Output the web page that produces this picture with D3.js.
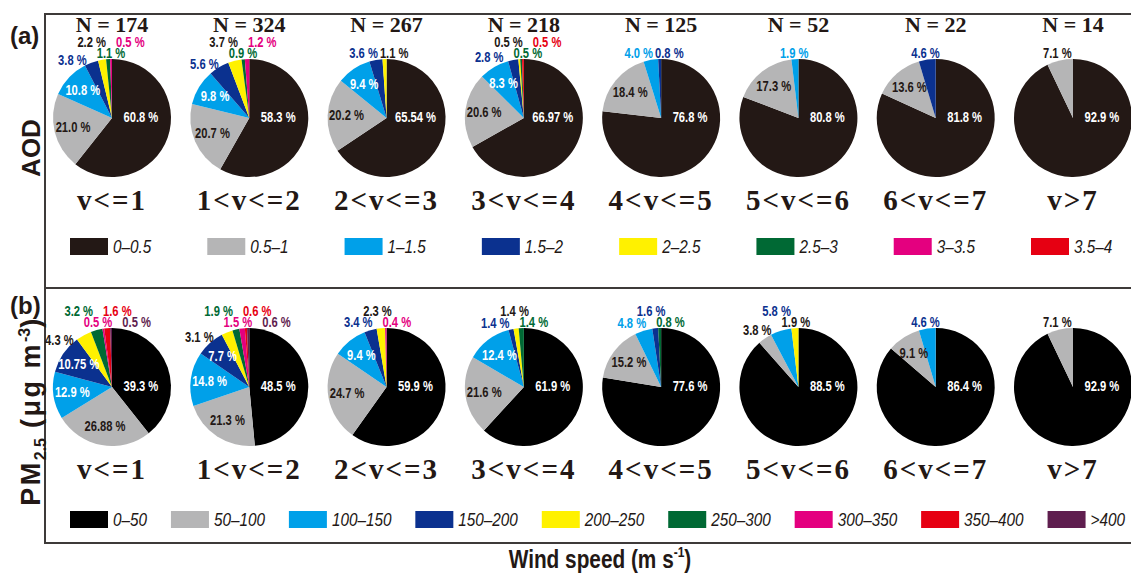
<!DOCTYPE html>
<html><head><meta charset="utf-8">
<script src="https://cdn.jsdelivr.net/npm/d3@7/dist/d3.min.js"></script>
<style>body{margin:0;background:#fff}svg{display:block}</style>
</head><body><svg id="c" width="1131" height="573"></svg>
<script>
// ---------------- data ----------------
const categories = ["v<=1","1<v<=2","2<v<=3","3<v<=4","4<v<=5","5<v<=6","6<v<=7","v>7"];
const aodN = [174,324,267,218,125,52,22,14];

const aodClasses = ["0\u20130.5","0.5\u20131","1\u20131.5","1.5\u20132","2\u20132.5","2.5\u20133","3\u20133.5","3.5\u20134"];
const aodColors  = ["#231815","#b5b5b6","#00a0e9","#0b318f","#fff100","#006934","#e4007f","#e60012"];
const aodValues = [
  [60.8, 21.0, 10.8, 3.8, 2.2, 1.1, 0.5, 0],
  [58.3, 20.7, 9.8, 5.6, 3.7, 0.9, 1.2, 0],
  [65.54, 20.2, 9.4, 3.6, 1.1, 0, 0, 0],
  [66.97, 20.6, 8.3, 2.8, 0.5, 0.5, 0, 0.5],
  [76.8, 18.4, 4.0, 0.8, 0, 0, 0, 0],
  [80.8, 17.3, 1.9, 0, 0, 0, 0, 0],
  [81.8, 13.6, 0, 4.6, 0, 0, 0, 0],
  [92.9, 7.1, 0, 0, 0, 0, 0, 0]
];

const pmClasses = ["0\u201350","50\u2013100","100\u2013150","150\u2013200","200\u2013250","250\u2013300","300\u2013350","350\u2013400",">400"];
const pmColors  = ["#000000","#b5b5b6","#00a0e9","#0b318f","#fff100","#006934","#e4007f","#e60012","#5f1e4f"];
const pmValues = [
  [39.3, 26.88, 12.9, 10.75, 4.3, 3.2, 0.5, 1.6, 0.5],
  [48.5, 21.3, 14.8, 7.7, 3.1, 1.9, 1.5, 0.6, 0.6],
  [59.9, 24.7, 9.4, 3.4, 2.3, 0, 0.4, 0, 0],
  [61.9, 21.6, 12.4, 1.4, 1.4, 1.4, 0, 0, 0],
  [77.6, 15.2, 4.8, 1.6, 0, 0.8, 0, 0, 0],
  [88.5, 3.8, 5.8, 0, 1.9, 0, 0, 0, 0],
  [86.4, 9.1, 4.6, 0, 0, 0, 0, 0, 0],
  [92.9, 7.1, 0, 0, 0, 0, 0, 0, 0]
];
// label printed in another class colour (pie index -> {class: colourClass})
const pmLabelColourSwap = {5: {2: 3}, 6: {2: 3}};

// ---------------- layout ----------------
const svg = d3.select("#c");
const W = 1131;
const R = 59;
const DARK = "#231815";
const LINE = "#3e3a39";
const x = d3.scalePoint().domain(categories).range([112, 1073]);
const SANS = "'Liberation Sans', Arial, Helvetica, sans-serif";
const SERIF = "'Liberation Serif', 'Times New Roman', serif";

// frame
const frame = svg.append("g").attr("stroke", LINE).attr("stroke-width", 2).attr("fill", "none");
frame.append("line").attr("x1", 45).attr("x2", W).attr("y1", 14).attr("y2", 14);
frame.append("line").attr("x1", 45).attr("x2", W).attr("y1", 288).attr("y2", 288);
frame.append("line").attr("x1", 45).attr("x2", W).attr("y1", 543).attr("y2", 543);
frame.append("line").attr("x1", 45).attr("x2", 45).attr("y1", 13).attr("y2", 544);

const fmt = v => Number.isInteger(v) ? v.toFixed(1) : String(v);

const pie = d3.pie().sort(null).value(d => d.v).startAngle(0).endAngle(2 * Math.PI);
const arc = d3.arc().innerRadius(0).outerRadius(R);

function labelColour(cls, colors, inside, swap) {
  if (inside) return (cls === 1 || cls === 4) ? DARK : "#ffffff";
  const c = swap && swap[cls] !== undefined ? swap[cls] : cls;
  if (c === 1 || c === 4 || c === 0) return DARK;
  return colors[c];
}

function addText(g, str, tx, ty, opts) {
  const t = g.append("text")
    .attr("transform", `translate(${tx},${ty}) scale(${opts.sx || 1},1)`)
    .attr("text-anchor", opts.anchor || "middle")
    .attr("dominant-baseline", opts.baseline || "auto")
    .style("font-family", opts.family || SANS)
    .style("font-size", opts.size + "px")
    .style("font-weight", opts.weight || "bold")
    .style("font-style", opts.style || "normal")
    .attr("fill", opts.fill || DARK)
    .text(str);
  return t;
}

function drawPanel(values, colors, cy, swapMap) {
  categories.forEach((cat, pi) => {
    const cx = x(cat);
    const g = svg.append("g").attr("transform", `translate(${cx},${cy})`);
    const data = values[pi].map((v, cls) => ({v, cls})).filter(d => d.v > 0);
    const arcs = pie(data);
    g.selectAll("path").data(arcs).join("path")
      .attr("d", arc).attr("fill", d => colors[d.data.cls]);

    const swap = swapMap ? swapMap[pi] : null;
    const outside = [];
    arcs.forEach(a => {
      const mid = (a.startAngle + a.endAngle) / 2;
      const txt = fmt(a.data.v) + " %";
      const inside = a.data.v >= 7.5;
      const fill = labelColour(a.data.cls, colors, inside, swap);
      if (inside) {
        let lx, ly;
        if (a.data.cls === 0) { lx = R * 0.49; ly = 0; }
        else { lx = Math.sin(mid) * R * 0.68; ly = -Math.cos(mid) * R * 0.68; }
        addText(g, txt, lx, ly, {size: 14, sx: 0.8, fill, baseline: "central"});
      } else {
        const t = addText(g, txt, 0, 0, {size: 14, sx: 0.8, fill, baseline: "central"});
        outside.push({t, nx: Math.sin(mid) * (R + 12), w: t.node().getComputedTextLength() * 0.8});
      }
    });
    // spread outside labels
    const n = outside.length;
    outside.forEach((it, i) => { it.x = it.nx; it.row = n <= 2 ? 0 : i % 2; });
    for (let iter = 0; iter < 300; iter++) {
      let moved = false;
      for (let i = 0; i < n; i++) for (let j = i + 1; j < n; j++) {
        const a = outside[i], b = outside[j];
        const d = a.row === b.row ? (a.w + b.w) / 2 + 2 : (a.w + b.w) / 4 + 5;
        const gap = b.x - a.x;
        if (gap < d - 0.01) { const m = (d - gap) / 2; a.x -= m; b.x += m; moved = true; }
      }
      if (!moved) break;
    }
    outside.forEach(it => {
      const y = it.row === 0
        ? -Math.min(R + 5, Math.sqrt(Math.max(0, (R + 11) ** 2 - it.x ** 2)))
        : -(R + 16);
      it.t.attr("transform", `translate(${it.x},${y}) scale(0.8,1)`);
    });
  });
}

drawPanel(aodValues, aodColors, 118, null);
drawPanel(pmValues, pmColors, 387, pmLabelColourSwap);

// N labels
categories.forEach((cat, i) => {
  addText(svg, "N = " + aodN[i], x(cat), 32, {size: 22, family: SERIF, sx: 1});
});

// category labels
[210, 479].forEach(yy => {
  categories.forEach(cat => {
    addText(svg, cat, x(cat), yy, {size: 29, family: SERIF, sx: 1}).style("letter-spacing", "2px");
  });
});

// legend (a): aligned under pies
aodClasses.forEach((c, i) => {
  const sx = x(categories[i]) - 42;
  svg.append("rect").attr("x", sx).attr("y", 238).attr("width", 38).attr("height", 17).attr("fill", aodColors[i]);
  addText(svg, c, sx + 43, 247, {size: 18, weight: "normal", style: "italic", anchor: "start", baseline: "central", sx: 0.85});
});

// legend (b): flowing
{
  const texts = pmClasses.map(c => addText(svg, c, 0, 0, {size: 18, weight: "normal", style: "italic", anchor: "start", baseline: "central", sx: 0.85}));
  const widths = texts.map(t => t.node().getComputedTextLength() * 0.85);
  const start = 70, end = 1125;
  const gap = (end - start - pmClasses.length * 43 - d3.sum(widths)) / (pmClasses.length - 1);
  let cur = start;
  pmClasses.forEach((c, i) => {
    svg.append("rect").attr("x", cur).attr("y", 511).attr("width", 38).attr("height", 17).attr("fill", pmColors[i]);
    texts[i].attr("transform", `translate(${cur + 43},520) scale(0.85,1)`);
    cur += 43 + widths[i] + gap;
  });
}

// panel tags
addText(svg, "(a)", 10, 44, {size: 24, anchor: "start"});
addText(svg, "(b)", 10, 314, {size: 24, anchor: "start"});

// y titles
addText(svg, "AOD", 0, 0, {size: 26}).attr("transform", "translate(40,148) rotate(-90)");
{
  const t = svg.append("text").attr("transform", "translate(40,411) rotate(-90)")
    .attr("text-anchor", "middle").style("font-family", SANS).style("font-size", "27px")
    .style("font-weight", "bold").style("letter-spacing", "2.5px").attr("fill", DARK);
  t.append("tspan").text("PM");
  t.append("tspan").text("2.5").style("font-size", "16px").style("letter-spacing", "0px").attr("dy", 6);
  t.append("tspan").text(" (\u03bcg m").attr("dy", -6);
  t.append("tspan").text("-3").style("font-size", "16px").style("letter-spacing", "0px").attr("dy", -10);
  t.append("tspan").text(")").attr("dy", 10);
}

// x title
{
  const t = svg.append("text").attr("transform", "translate(600,568) scale(0.8,1)")
    .attr("text-anchor", "middle").style("font-family", SANS).style("font-size", "26px")
    .style("font-weight", "bold").attr("fill", DARK);
  t.append("tspan").text("Wind speed (m s");
  t.append("tspan").text("-1").style("font-size", "15px").attr("dy", -11);
  t.append("tspan").text(")").attr("dy", 11);
}
</script>
</body></html>
